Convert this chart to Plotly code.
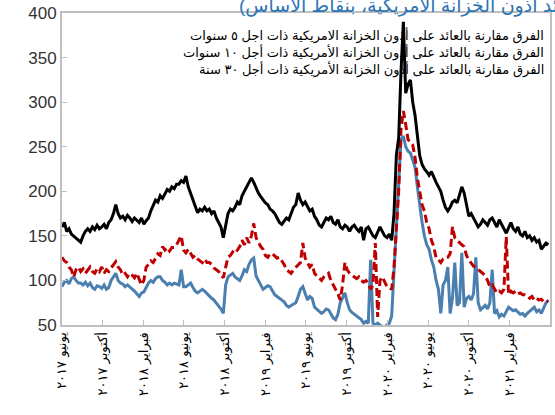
import pandas as pd
import plotly.graph_objects as go

start_date = "2017-06-01"
n_weeks = 209
dates = pd.date_range(start_date, periods=n_weeks, freq="7D")

five_year = [
    93, 98, 100, 96, 102, 104, 100, 97, 97, 95,
    98, 94, 97, 92, 90, 94, 93, 91, 95, 90,
    92, 100, 104, 108, 100, 97, 96, 93, 95, 93,
    90, 88, 85, 82, 86, 87, 92, 97, 100, 98,
    102, 104, 104, 100, 98, 95, 97, 95, 97, 96,
    95, 112, 93, 93, 95, 97, 92, 88, 86, 88,
    90, 88, 85, 82, 80, 78, 75, 72, 68, 63,
    95, 104, 106, 108, 104, 102, 100, 105, 112, 110,
    118, 123, 125, 105, 100, 95, 90, 92, 94, 93,
    88, 84, 82, 80, 78, 76, 72, 70, 72, 74,
    75, 82, 90, 93, 85, 78, 82, 80, 70, 68,
    65, 63, 65, 68, 67, 62, 58, 56, 62, 75,
    80, 86, 75, 67, 64, 62, 60, 59, 56, 52,
    54, 52, 123, 52, 50, 52, 50, 48, 48, 50,
    52, 60, 108, 150, 198, 258, 262, 250, 245, 243,
    235, 227, 205, 182, 165, 150, 140, 135, 123, 115,
    100, 90, 63, 95, 100, 115, 63, 80, 120, 72,
    75, 131, 70, 80, 82, 78, 85, 126, 75, 67,
    70, 72, 68, 75, 112, 63, 66, 59, 62, 60,
    65, 70, 68, 66, 67, 64, 62, 63, 60, 63,
    65, 68, 70, 65, 67, 63, 70, 75, 78,
]

ten_year = [
    126, 122, 120, 115, 112, 104, 112, 115, 110, 113,
    108, 112, 115, 110, 108, 113, 110, 115, 108, 112,
    110, 114, 118, 121, 115, 112, 106, 108, 104, 108,
    106, 103, 108, 102, 95, 100, 115, 118, 122, 120,
    126, 130, 128, 138, 134, 137, 133, 137, 137, 140,
    145, 150, 134, 131, 135, 130, 126, 128, 124, 122,
    120, 124, 120, 120, 118, 114, 112, 110, 106, 103,
    115, 126, 128, 132, 130, 134, 138, 145, 140, 148,
    142, 150, 164, 148, 142, 138, 135, 128, 126, 130,
    130, 127, 125, 126, 122, 118, 112, 110, 108, 112,
    115, 118, 120, 142, 125, 120, 115, 118, 108, 105,
    102, 100, 104, 106, 108, 100, 95, 90, 85, 78,
    95, 120, 112, 108, 106, 104, 102, 104, 100, 98,
    100, 97, 90, 95, 142, 59, 100, 104, 98, 93,
    92, 90, 115, 160, 200, 270, 290, 275, 258, 255,
    252, 238, 215, 200, 185, 178, 165, 158, 145, 138,
    125, 123, 120, 124, 126, 126, 130, 160, 148, 145,
    142, 140, 138, 128, 123, 120, 116, 115, 112, 110,
    108, 105, 100, 93, 95, 90, 86, 88, 86, 90,
    149, 84, 88, 86, 88, 85, 86, 84, 84, 83,
    80, 82, 78, 80, 78, 79, 76, 77, 76,
]

thirty_year = [
    160, 165, 155, 158, 152, 150, 148, 145, 143, 150,
    155, 158, 155, 160, 157, 162, 158, 160, 163, 158,
    165, 168, 175, 185, 175, 170, 172, 168, 173, 170,
    166, 170, 168, 165, 170, 163, 167, 170, 178, 185,
    190, 188, 195, 192, 198, 202, 200, 205, 203, 208,
    208, 212, 210, 217, 205, 198, 190, 182, 176, 180,
    178, 182, 178, 180, 175, 178, 170, 165, 160, 148,
    162, 175, 180, 178, 182, 188, 185, 195, 200, 205,
    210, 215, 210, 203, 198, 194, 190, 187, 185, 180,
    178, 175, 170, 165, 163, 166, 170, 168, 175, 182,
    185, 198, 190, 185, 188, 182, 178, 180, 172, 168,
    162, 160, 165, 170, 168, 172, 165, 163, 168, 160,
    158, 162, 160, 155, 160, 162, 158, 155, 160, 145,
    158, 160, 155, 150, 148, 155, 160, 155, 150, 148,
    152, 145, 175, 240, 260, 335, 390, 310, 320, 325,
    300, 285, 260, 240, 230, 225, 222, 218, 222, 215,
    210, 205, 200, 190, 182, 178, 182, 188, 190, 187,
    195, 205, 198, 185, 172, 175, 170, 165, 160, 163,
    168, 165, 162, 168, 170, 165, 160, 168, 162, 158,
    153, 160, 165, 158, 155, 160, 152, 150, 155, 148,
    150, 145, 148, 143, 145, 135, 138, 142, 140,
]

series_names = [
    "الفرق مقارنة بالعائد على أذون الخزانة الامريكية ذات اجل ٥ سنوات",
    "الفرق مقارنة بالعائد على أذون الخزانة الأمريكية ذات أجل ١٠ سنوات",
    "الفرق مقارنة بالعائد على أذون الخزانة الأمريكية ذات أجل ٣٠ سنة",
]
series_colors = ["#4a7fb0", "#c00000", "#000000"]

tick_dates = [
    "2017-06-01", "2017-10-01", "2018-02-01", "2018-06-01", "2018-10-01",
    "2019-02-01", "2019-06-01", "2019-10-01", "2020-02-01", "2020-06-01",
    "2020-10-01", "2021-02-01", "2021-06-01",
]
tick_labels = [
    "يونيو ٢٠١٧", "أكتوبر ٢٠١٧", "فبراير ٢٠١٨", "يونيو ٢٠١٨", "أكتوبر ٢٠١٨",
    "فبراير ٢٠١٩", "يونيو ٢٠١٩", "أكتوبر ٢٠١٩", "فبراير ٢٠٢٠", "يونيو ٢٠٢٠",
    "أكتوبر ٢٠٢٠", "فبراير ٢٠٢١", "يونيو ٢٠٢١",
]

title_text = "(الفرق مقارنة بعائد أذون الخزانة الأمريكية، بنقاط الأساس)"

fig = go.Figure()
fig.add_trace(go.Scatter(x=dates, y=five_year, mode="lines", name=series_names[0],
                         line=dict(color=series_colors[0], width=3)))
fig.add_trace(go.Scatter(x=dates, y=ten_year, mode="lines", name=series_names[1],
                         line=dict(color=series_colors[1], width=3, dash="8px,4px")))
fig.add_trace(go.Scatter(x=dates, y=thirty_year, mode="lines", name=series_names[2],
                         line=dict(color=series_colors[2], width=3)))

fig.update_layout(
    width=555, height=415,
    margin=dict(l=62, r=5, t=13, b=90),
    paper_bgcolor="white", plot_bgcolor="white",
    font=dict(family="Liberation Sans, Arial, DejaVu Sans", color="black"),
    showlegend=False,
)
fig.update_xaxes(
    range=["2017-06-01", "2021-06-01"], automargin=False,
    tickvals=tick_dates, ticktext=tick_labels, tickangle=-90,
    tickfont=dict(size=13, family="DejaVu Sans"),
    ticks="inside", ticklen=5, tickcolor="#bfbfbf",
    showline=True, linecolor="#bfbfbf", linewidth=2, mirror=True,
    showgrid=False, zeroline=False,
)
fig.update_yaxes(
    range=[50, 400], automargin=False,
    tickvals=[50, 100, 150, 200, 250, 300, 350, 400],
    tickfont=dict(size=17, family="Liberation Sans, Arial", color="#333333"),
    ticks="inside", ticklen=5, tickcolor="#bfbfbf",
    showline=True, linecolor="#bfbfbf", linewidth=2, mirror=True,
    showgrid=False, zeroline=False,
)

# legend text (rows right-aligned near the right frame)
for i, name in enumerate(series_names):
    fig.add_annotation(
        text=name, xref="paper", yref="paper", x=0.992, y=1.0,
        yshift=-22 - 17 * i, xanchor="right", yanchor="middle", showarrow=False,
        font=dict(size=13, color="black"),
    )

fig.add_annotation(
    text=title_text, xref="paper", yref="paper", x=0.358, y=1.0,
    yshift=22, xanchor="left", yanchor="top", showarrow=False,
    font=dict(size=19, color="#2e75b6"),
)
fig.write_html("out.html", config={"displayModeBar": False},
               post_script="document.body.style.margin='0';")
